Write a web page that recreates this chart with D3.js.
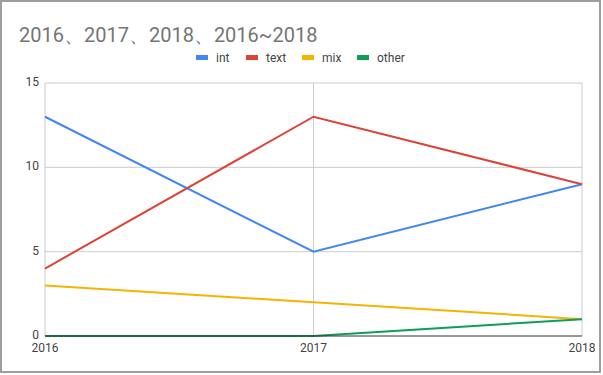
<!DOCTYPE html>
<html>
<head>
<meta charset="utf-8">
<script src="https://cdn.jsdelivr.net/npm/d3@7"></script>
<style>
  body { margin: 0; background: #fff; }
  svg { font-family: Roboto, "Noto Sans", sans-serif; }
</style>
</head>
<body>
<div id="chart"></div>
<script>
// line chart: counts per year by type

const years = ["2016", "2017", "2018"];
const seriesNames = ["int", "text", "mix", "other"];
const intVals = [13, 5, 9];
const textVals = [4, 13, 9];
const mixVals = [3, 2, 1];
const otherVals = [0, 0, 1];
const yTicks = [0, 5, 10, 15];
const colors = ["#4285f4", "#db4437", "#f4b400", "#0f9d58"];

const series = [intVals, textVals, mixVals, otherVals].map((v, i) => ({
  name: seriesNames[i],
  color: colors[i],
  values: v
}));

const w = 603, h = 375;
const m = { left: 45, right: 21, top: 83, bottom: 39 };

const svg = d3.select("#chart").append("svg")
  .attr("width", w)
  .attr("height", h);

// frame
svg.append("rect")
  .attr("x", 1).attr("y", 1)
  .attr("width", 599).attr("height", 371)
  .attr("fill", "#fff")
  .attr("stroke", "#9e9e9e")
  .attr("stroke-width", 2);

const x = d3.scalePoint().domain(years).range([m.left, w - m.right]);
const y = d3.scaleLinear().domain([0, 15]).range([h - m.bottom, m.top]);

// title
svg.append("text")
  .attr("x", 19)
  .attr("y", 42)
  .attr("font-size", "20px")
  .attr("fill", "#757575")
  .text("2016、2017、2018、2016~2018");

// legend
const legendX = [196, 246, 302, 357];
const legend = svg.selectAll(".leg")
  .data(series)
  .enter().append("g")
    .attr("transform", (d, i) => `translate(${legendX[i]},58)`);

legend.append("rect")
  .attr("x", 0).attr("y", -3)
  .attr("width", 12).attr("height", 5)
  .attr("fill", d => d.color);

legend.append("text")
  .attr("x", 20)
  .attr("y", 4)
  .attr("font-size", "12px")
  .attr("fill", "#444")
  .text(d => d.name);

// horizontal grid
svg.append("g")
  .selectAll("line")
  .data(yTicks.filter(t => t > 0))
  .enter().append("line")
    .attr("x1", m.left).attr("x2", w - m.right)
    .attr("y1", d => y(d)).attr("y2", d => y(d))
    .attr("stroke", "#ccc");

// vertical grid
svg.append("g")
  .selectAll("line")
  .data(years)
  .enter().append("line")
    .attr("x1", d => x(d)).attr("x2", d => x(d))
    .attr("y1", m.top).attr("y2", h - m.bottom)
    .attr("stroke", "#ccc");

// y labels
svg.append("g")
  .selectAll("text")
  .data(yTicks)
  .enter().append("text")
    .attr("x", m.left - 6)
    .attr("y", d => y(d) + 3)
    .attr("text-anchor", "end")
    .attr("font-size", "12px")
    .attr("fill", "#444")
    .text(d => d);

// x labels
svg.append("g")
  .selectAll("text")
  .data(years)
  .enter().append("text")
    .attr("x", d => x(d))
    .attr("y", h - m.bottom + 16)
    .attr("text-anchor", "middle")
    .attr("font-size", "12px")
    .attr("fill", "#444")
    .text(d => d);

// lines
const line = d3.line()
  .x((d, i) => x(years[i]))
  .y(d => y(d));

svg.append("g")
  .selectAll("path")
  .data(series)
  .enter().append("path")
    .attr("d", d => line(d.values))
    .attr("fill", "none")
    .attr("stroke", d => d.color)
    .attr("stroke-width", 2);

// baseline
svg.append("line")
  .attr("x1", m.left).attr("x2", w - m.right)
  .attr("y1", y(0)).attr("y2", y(0))
  .attr("stroke", "#333");
</script>
</body>
</html>
